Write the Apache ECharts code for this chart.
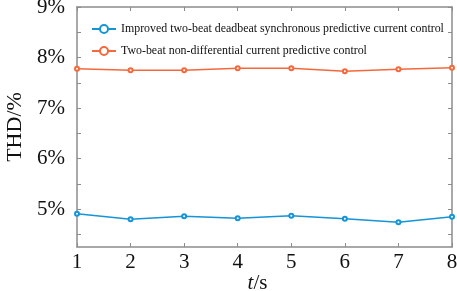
<!DOCTYPE html>
<html>
<head>
<meta charset="utf-8">
<script src="https://cdn.jsdelivr.net/npm/echarts@6/dist/echarts.min.js"></script>
<style>
  html, body { margin: 0; padding: 0; background: #fff; }
  #main { width: 457px; height: 291px; }
</style>
</head>
<body>
<div id="main"></div>
<script>
// time in seconds
var times = [1, 2, 3, 4, 5, 6, 7, 8];
var nameImproved = 'Improved two-beat deadbeat synchronous predictive current control';
var nameTwoBeat = 'Two-beat non-differential current predictive control';
// THD in %
var thdImproved = [4.91, 4.80, 4.86, 4.82, 4.87, 4.81, 4.74, 4.85];
var thdTwoBeat = [7.78, 7.75, 7.75, 7.79, 7.79, 7.73, 7.77, 7.80];
var yTicks = [4.5, 5, 5.5, 6, 6.5, 7, 7.5, 8, 8.5, 9];
var yLabels = [5, 6, 7, 8, 9];

var serif = 'Liberation Serif';
var axisGray = '#8c8c8c';

var chart = echarts.init(document.getElementById('main'));

function pairs(ys) {
  var out = [];
  for (var i = 0; i < times.length; i++) out.push([times[i], ys[i]]);
  return out;
}

var option = {
  animation: false,
  backgroundColor: '#fff',
  grid: { left: 77, right: 5, top: 7, bottom: 44, outerBoundsMode: 'none', containLabel: false },
  legend: {
    orient: 'vertical',
    left: 86,
    top: 18,
    itemGap: 10,
    itemWidth: 24,
    itemHeight: 10,
    textStyle: { fontFamily: serif, fontSize: 11.9, color: '#111' },
    data: [nameImproved, nameTwoBeat]
  },
  xAxis: [{
    type: 'value',
    min: 1,
    max: 8,
    interval: 1,
    name: '{i|t}/s',
    nameLocation: 'middle',
    nameGap: 26,
    nameMoveOverlap: false,
    nameTextStyle: {
      fontFamily: serif, fontSize: 21, color: '#111', padding: [0, 14, 0, 0],
      rich: { i: { fontStyle: 'italic', fontFamily: serif, fontSize: 21, color: '#111' } }
    },
    axisLine: { lineStyle: { color: axisGray, width: 1.5 } },
    axisTick: { inside: true, length: 4, lineStyle: { color: axisGray } },
    axisLabel: { fontFamily: serif, fontSize: 21, color: '#111', margin: 5 },
    splitLine: { show: false }
  }, {
    type: 'value',
    position: 'top',
    min: 1,
    max: 8,
    interval: 1,
    axisLine: { show: true, lineStyle: { color: axisGray, width: 1.5 } },
    axisTick: { show: true, inside: true, length: 4, lineStyle: { color: axisGray } },
    axisLabel: { show: false },
    splitLine: { show: false }
  }],
  yAxis: [{
    type: 'value',
    min: 4.25,
    max: 9,
    name: 'THD/%',
    nameLocation: 'middle',
    nameGap: 50,
    nameTextStyle: { fontFamily: serif, fontSize: 22, color: '#111' },
    axisLine: { show: true, lineStyle: { color: axisGray, width: 1.5 } },
    axisTick: { show: true, inside: true, length: 4, customValues: yTicks, lineStyle: { color: axisGray } },
    axisLabel: {
      fontFamily: serif, fontSize: 21, color: '#111', margin: 12,
      customValues: yLabels,
      formatter: function (v) { return v + '%'; }
    },
    splitLine: { show: false }
  }, {
    type: 'value',
    position: 'right',
    min: 4.25,
    max: 9,
    axisLine: { show: true, lineStyle: { color: axisGray, width: 1.5 } },
    axisTick: { show: true, inside: true, length: 4, customValues: yTicks, lineStyle: { color: axisGray } },
    axisLabel: { show: false },
    splitLine: { show: false }
  }],
  series: [{
    name: nameImproved,
    type: 'line',
    data: pairs(thdImproved),
    symbol: 'emptyCircle',
    symbolSize: 4,
    color: '#1594d6',
    lineStyle: { width: 1.5 },
    itemStyle: { borderWidth: 1 }
  }, {
    name: nameTwoBeat,
    type: 'line',
    data: pairs(thdTwoBeat),
    symbol: 'emptyCircle',
    symbolSize: 4,
    color: '#f4693c',
    lineStyle: { width: 1.5 },
    itemStyle: { borderWidth: 1 }
  }]
};

chart.setOption(option);
</script>
</body>
</html>
